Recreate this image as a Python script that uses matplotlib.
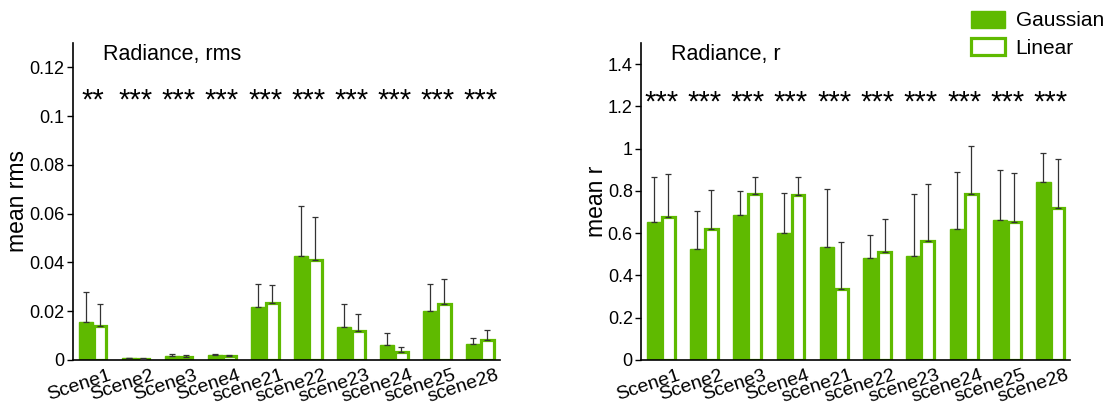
import numpy as np
import matplotlib
matplotlib.use("Agg")
import matplotlib.pyplot as plt
from matplotlib.patches import Patch
from matplotlib.transforms import ScaledTranslation

plt.rcParams['font.family'] = ['Liberation Sans', 'DejaVu Sans']

scenes = ["Scene1", "Scene2", "Scene3", "Scene4", "scene21", "scene22",
          "scene23", "scene24", "scene25", "scene28"]

rms_gauss = [0.0154, 0.0007, 0.0017, 0.0019, 0.0218, 0.0428, 0.0134, 0.0061, 0.0200, 0.0066]
rms_gauss_sd = [0.0125, 0.0003, 0.0008, 0.0007, 0.0095, 0.0204, 0.0096, 0.0051, 0.0113, 0.0024]
rms_linear = [0.0141, 0.0006, 0.0014, 0.0015, 0.0232, 0.0408, 0.0119, 0.0033, 0.0228, 0.0083]
rms_linear_sd = [0.0087, 0.0003, 0.0005, 0.0006, 0.0077, 0.0178, 0.0070, 0.0022, 0.0103, 0.0041]
rms_stars = ["**", "***", "***", "***", "***", "***", "***", "***", "***", "***"]

r_gauss = [0.654, 0.523, 0.686, 0.599, 0.536, 0.481, 0.492, 0.621, 0.662, 0.842]
r_gauss_sd = [0.213, 0.183, 0.113, 0.189, 0.274, 0.112, 0.293, 0.267, 0.238, 0.135]
r_linear = [0.678, 0.621, 0.784, 0.780, 0.337, 0.509, 0.561, 0.787, 0.653, 0.719]
r_linear_sd = [0.202, 0.183, 0.083, 0.084, 0.223, 0.159, 0.270, 0.227, 0.231, 0.233]
r_stars = ["***"] * 10

rms_ticks = [0, 0.02, 0.04, 0.06, 0.08, 0.1, 0.12]
rms_ticklabels = ["0", "0.02", "0.04", "0.06", "0.08", "0.1", "0.12"]
r_ticks = [0, 0.2, 0.4, 0.6, 0.8, 1.0, 1.2, 1.4]
r_ticklabels = ["0", "0.2", "0.4", "0.6", "0.8", "1", "1.2", "1.4"]

GREEN = "#5fba00"

fig = plt.figure(figsize=(11.17, 4.07), dpi=100)
ax1 = fig.add_axes([0.0654, 0.1155, 0.382, 0.779])
ax2 = fig.add_axes([0.574, 0.1155, 0.384, 0.779])

def panel(ax, g, gsd, l, lsd, stars, star_y, ylim, ticks, ticklabels, title, ylabel):
    x = np.arange(len(scenes))
    w = 0.33
    ax.bar(x - w / 2, g, width=w, color=GREEN, edgecolor=GREEN, linewidth=1, zorder=2)
    ax.bar(x + w / 2, l, width=w * 0.9, color="white", edgecolor=GREEN, linewidth=2.3, zorder=2)
    ax.errorbar(x - w / 2, g, yerr=[np.zeros(len(g)), gsd], fmt="none",
                ecolor="#333333", elinewidth=0.9, capsize=2, capthick=0.9, zorder=3)
    ax.errorbar(x + w / 2, l, yerr=[np.zeros(len(l)), lsd], fmt="none",
                ecolor="#333333", elinewidth=0.9, capsize=2, capthick=0.9, zorder=3)
    star_off = ScaledTranslation(0, -13.5 / 100, fig.dpi_scale_trans)
    for xi, s in zip(x, stars):
        ax.text(xi, star_y, s, ha="center", va="baseline", fontsize=21,
                transform=ax.transData + star_off)
    ax.set_xlim(-0.46, 9.45)
    ax.set_ylim(*ylim)
    ax.set_yticks(ticks)
    ax.set_yticklabels(ticklabels, fontsize=13)
    # labels anchored slightly right of the group centre (no visible x tick marks)
    ax.set_xticks(x + 0.36)
    ax.set_xticklabels(scenes, fontsize=14, rotation=18, ha="right", rotation_mode="anchor")
    ax.tick_params(axis="x", length=0, pad=5)
    ax.tick_params(axis="y", length=4, width=1, direction="out", pad=2)
    for sp in ["top", "right"]:
        ax.spines[sp].set_visible(False)
    ax.spines["left"].set_linewidth(1.2)
    ax.spines["bottom"].set_linewidth(1.2)
    ax.text(0.07, 0.965, title, transform=ax.transAxes, fontsize=15.5, va="center", ha="left")
    ax.set_ylabel(ylabel, fontsize=16.5, labelpad=0)

panel(ax1, rms_gauss, rms_gauss_sd, rms_linear, rms_linear_sd, rms_stars, 0.1088,
      (0, 0.130), rms_ticks, rms_ticklabels, "Radiance, rms", "mean rms")
panel(ax2, r_gauss, r_gauss_sd, r_linear, r_linear_sd, r_stars, 1.245,
      (0, 1.50), r_ticks, r_ticklabels, "Radiance, r", "mean r")

handles = [Patch(facecolor=GREEN, edgecolor=GREEN, label="Gaussian"),
           Patch(facecolor="white", edgecolor=GREEN, linewidth=2.3, label="Linear")]
fig.legend(handles=handles, loc="upper right", bbox_to_anchor=(1.005, 1.02),
           frameon=False, fontsize=15, handlelength=1.65, handleheight=0.9,
           handletextpad=0.5, labelspacing=0.35)

fig.savefig("out.png", dpi=100)
